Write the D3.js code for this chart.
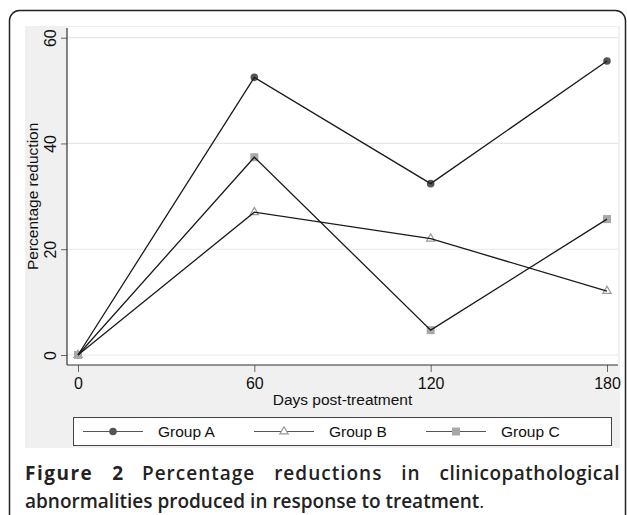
<!DOCTYPE html>
<html>
<head>
<script src="https://d3js.org/d3.v7.min.js"></script>
<style>
  body { margin: 0; background: #fff; }
  text { font-family: "Liberation Sans", Arial, sans-serif; }
  text.cap { font-family: "Open Sans", "Noto Sans", sans-serif; }
</style>
</head>
<body>
<script>
// chart data
const days = [0, 60, 120, 180];
const groupA = [0, 52.5, 32.4, 55.6];
const groupB = [0, 27.0, 22.0, 12.1];
const groupC = [0, 37.4, 4.7, 25.7];
const seriesNames = ["Group A", "Group B", "Group C"];
const yTicks = [0, 20, 40, 60];
const xTicks = [0, 60, 120, 180];

const W = 627, H = 515;
const svg = d3.select("body").append("svg")
    .attr("width", W).attr("height", H);

// outer frame + graph region
svg.append("rect")
    .attr("x", 9.5).attr("y", 10.5).attr("width", 616).attr("height", 540)
    .attr("rx", 10).attr("fill", "#fff").attr("stroke", "#222").attr("stroke-width", 1.5);
svg.append("rect")
    .attr("x", 25).attr("y", 26).attr("width", 595).attr("height", 422)
    .attr("fill", "#f0f0f0");

const plot = {left: 67, right: 618, top: 27, bottom: 365};
svg.append("rect")
    .attr("x", plot.left).attr("y", plot.top)
    .attr("width", plot.right - plot.left).attr("height", plot.bottom - plot.top)
    .attr("fill", "#fff");

const x = d3.scaleLinear().domain([0, 180]).range([78, 607]);
const y = d3.scaleLinear().domain([0, 60]).range([355, 37.7]);

// grid
svg.append("g").selectAll("line").data(yTicks).join("line")
    .attr("x1", plot.left).attr("x2", plot.right)
    .attr("y1", d => y(d)).attr("y2", d => y(d))
    .attr("stroke", "#e8e8e8").attr("stroke-width", 1.2);

// y axis
const yAxis = svg.append("g")
    .attr("transform", `translate(${plot.left},0)`)
    .call(d3.axisLeft(y).tickValues(yTicks).tickSize(6).tickPadding(4));
yAxis.select(".domain").remove();
yAxis.selectAll(".tick line").attr("stroke", "#666");
yAxis.selectAll(".tick text")
    .attr("font-size", 16).attr("fill", "#111")
    .attr("text-anchor", "middle")
    .attr("x", null).attr("dy", null)
    .attr("transform", "translate(-11,0) rotate(-90)")
    .attr("y", 0);
svg.append("line")
    .attr("x1", plot.left).attr("x2", plot.left)
    .attr("y1", plot.top + 1).attr("y2", plot.bottom)
    .attr("stroke", "#333").attr("stroke-width", 1.2);

// x axis
const xAxis = svg.append("g")
    .attr("transform", `translate(0,${plot.bottom})`)
    .call(d3.axisBottom(x).tickValues(xTicks).tickSize(7).tickPadding(6));
xAxis.select(".domain").remove();
xAxis.selectAll(".tick line").attr("stroke", "#666");
xAxis.selectAll(".tick text").attr("font-size", 16).attr("fill", "#111");
svg.append("line")
    .attr("x1", plot.left).attr("x2", plot.right)
    .attr("y1", plot.bottom).attr("y2", plot.bottom)
    .attr("stroke", "#333").attr("stroke-width", 1.2);

// axis titles
svg.append("text")
    .attr("x", (x(0) + x(180)) / 2).attr("y", 405)
    .attr("text-anchor", "middle").attr("font-size", 15.5).attr("fill", "#111")
    .text("Days post-treatment");
svg.append("text")
    .attr("transform", `translate(38,${(y(0) + y(60)) / 2}) rotate(-90)`)
    .attr("text-anchor", "middle").attr("font-size", 15.5).attr("fill", "#111")
    .text("Percentage reduction");

// marker drawing
function marker(g, i) {
  if (i === 0) {
    g.append("circle").attr("r", 3.8).attr("fill", "#555");
  } else if (i === 1) {
    g.append("path").attr("d", d3.symbol(d3.symbolTriangle, 30)())
      .attr("fill", "#fff").attr("stroke", "#999").attr("stroke-width", 1.2);
  } else {
    g.append("rect").attr("x", -4).attr("y", -4).attr("width", 8).attr("height", 8)
      .attr("fill", "#a8a8a8");
  }
}

const series = [groupA, groupB, groupC];
const line = d3.line().x((d, i) => x(days[i])).y(d => y(d));

// markers first, lines drawn over them
series.forEach((vals, s) => {
  vals.forEach((v, i) => {
    const g = svg.append("g").attr("transform", `translate(${x(days[i])},${y(v)})`);
    marker(g, s);
  });
});
series.forEach(vals => {
  svg.append("path").datum(vals)
    .attr("fill", "none").attr("stroke", "#1a1a1a").attr("stroke-width", 1.3)
    .attr("d", line);
});

// legend
svg.append("rect")
    .attr("x", 73.5).attr("y", 417.5).attr("width", 538).attr("height", 28)
    .attr("fill", "#fff").attr("stroke", "#444").attr("stroke-width", 1);
const legX = [83, 254, 426];
seriesNames.forEach((name, i) => {
  const lx = legX[i];
  svg.append("line")
      .attr("x1", lx).attr("x2", lx + 60).attr("y1", 431.5).attr("y2", 431.5)
      .attr("stroke", "#555").attr("stroke-width", 1.2);
  marker(svg.append("g").attr("transform", `translate(${lx + 30},431.5)`), i);
  svg.append("text")
      .attr("x", lx + 75).attr("y", 437).attr("font-size", 15.5).attr("fill", "#111")
      .text(name);
});

// caption, first line justified
function justifyLine(words, yPos, left, right) {
  const nodes = words.map(w => svg.append("text").attr("class", "cap")
      .attr("y", yPos).attr("font-size", 19)
      .attr("font-weight", w.w).attr("letter-spacing", w.ls || 0)
      .attr("fill", "#222").text(w.t));
  const widths = nodes.map(n => n.node().getComputedTextLength());
  const gap = (right - left - d3.sum(widths)) / (words.length - 1);
  let cx = left;
  nodes.forEach((n, i) => { n.attr("x", cx); cx += widths[i] + gap; });
}
justifyLine([
  {t: "Figure", w: 700, ls: 1.5}, {t: "2", w: 700}, {t: "Percentage", w: 600, ls: 1},
  {t: "reductions", w: 600, ls: 1}, {t: "in", w: 600, ls: 1}, {t: "clinicopathological", w: 600, ls: 0.5}
], 480, 25, 620);

const cap2 = svg.append("text").attr("class", "cap")
    .attr("x", 25).attr("y", 508).attr("font-size", 19)
    .attr("fill", "#222");
cap2.append("tspan").attr("font-weight", 600).text("abnormalities produced in response to treatment");
cap2.append("tspan").attr("font-weight", 400).text(".");
</script>
</body>
</html>
